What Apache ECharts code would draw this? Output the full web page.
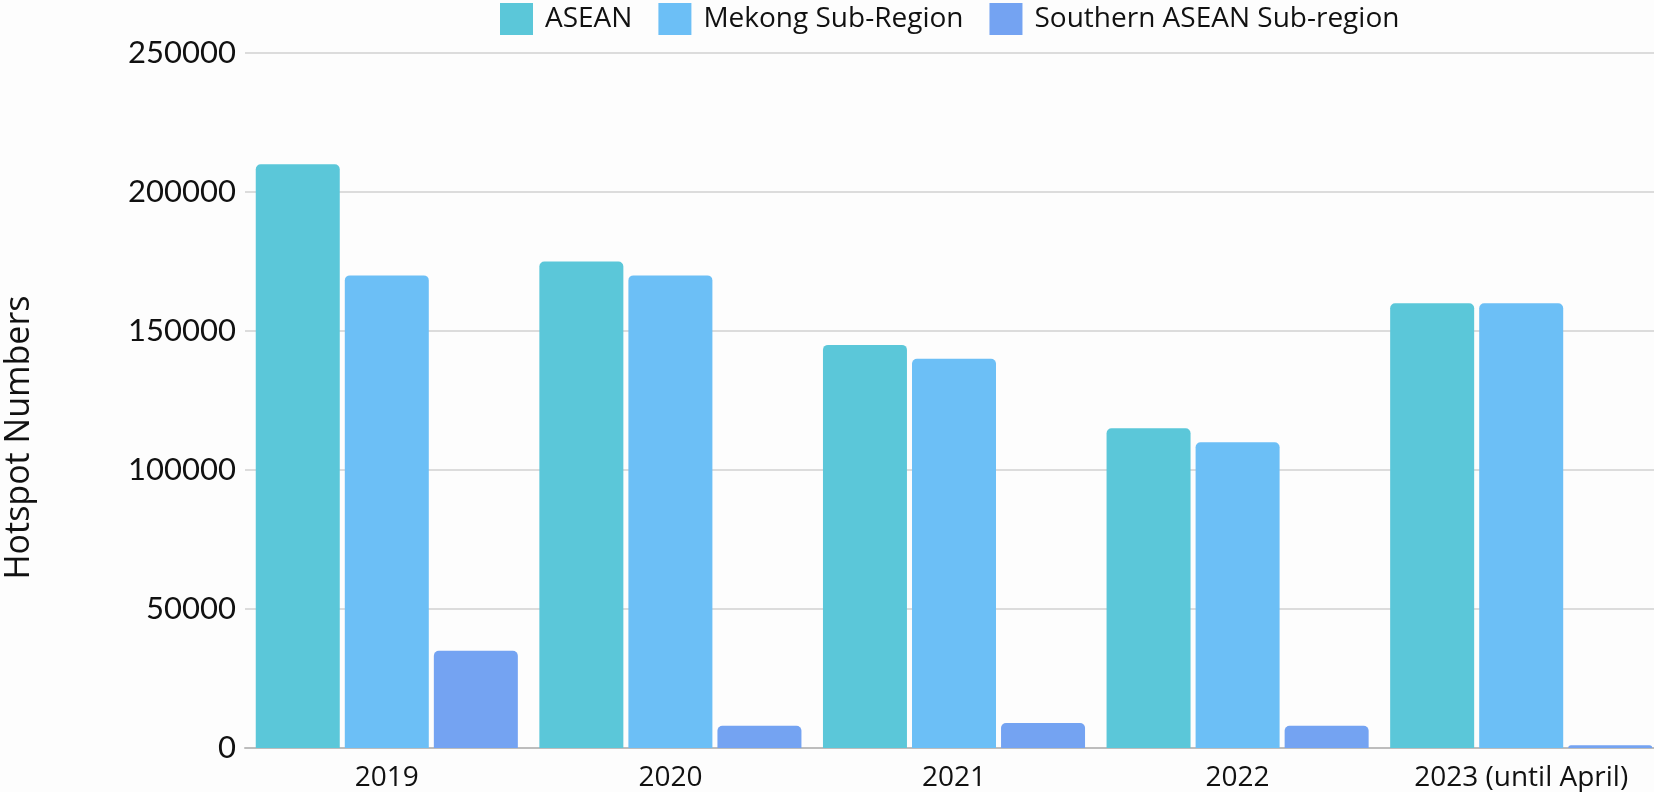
<!DOCTYPE html>
<html>
<head>
<meta charset="utf-8">
<script src="https://cdn.jsdelivr.net/npm/echarts@6/dist/echarts.min.js"></script>
<style>
  html, body { margin: 0; padding: 0; background: #fdfdfd; }
  #chart { width: 1654px; height: 792px; }
</style>
</head>
<body>
<div id="chart"></div>
<script>
    // hotspot counts per year
    var years = ['2019', '2020', '2021', '2022', '2023 (until April)'];
    var seriesNames = ['ASEAN', 'Mekong Sub-Region', 'Southern ASEAN Sub-region'];
    var aseanValues = [210000, 175000, 145000, 115000, 160000];
    var mekongValues = [170000, 170000, 140000, 110000, 160000];
    var southernValues = [35000, 8000, 9000, 8000, 1000];
    var yTicks = [0, 50000, 100000, 150000, 200000, 250000];

    var colors = ['#5bc7d9', '#6cbff6', '#74a3f2'];
    var textColor = '#111';

    var chart = echarts.init(document.getElementById('chart'));

    var makeBar = function (name, values, i) {
        return {
            name: name,
            type: 'bar',
            barWidth: 84,
            barGap: '6%',
            itemStyle: {
                color: colors[i],
                borderRadius: [5, 5, 0, 0]
            },
            emphasis: { disabled: true },
            data: values
        };
    };

    var option = {
        backgroundColor: '#fdfdfd',
        animation: false,
        legend: {
            left: 500,
            top: 3,
            padding: 0,
            itemWidth: 33,
            itemHeight: 32,
            itemGap: 26,
            icon: 'rect',
            data: seriesNames,
            textStyle: {
                fontFamily: 'Open Sans',
                fontSize: 28,
                color: textColor,
                padding: [0, 0, 0, 7]
            }
        },
        grid: {
            left: 245,
            right: -9,
            top: 53,
            bottom: 44,
            outerBoundsMode: 'none'
        },
        xAxis: {
            type: 'category',
            data: years,
            axisTick: { show: false },
            axisLine: { lineStyle: { color: '#bdbdbd', width: 2 } },
            axisLabel: {
                fontFamily: 'Open Sans',
                fontSize: 28,
                color: textColor,
                margin: 16
            }
        },
        yAxis: {
            type: 'value',
            min: yTicks[0],
            max: yTicks[yTicks.length - 1],
            interval: yTicks[1] - yTicks[0],
            name: 'Hotspot Numbers',
            nameLocation: 'middle',
            nameGap: 209,
            nameTextStyle: {
                fontFamily: 'Open Sans',
                fontSize: 34,
                color: textColor,
                padding: [0, 74, 0, 0]
            },
            axisLine: { show: false },
            axisTick: { show: false },
            splitLine: { lineStyle: { color: '#dcdcdc', width: 2 } },
            axisLabel: {
                fontFamily: 'Lato',
                fontSize: 31,
                color: textColor,
                margin: 9,
                formatter: function (v) { return String(v); }
            }
        },
        series: [
            makeBar(seriesNames[0], aseanValues, 0),
            makeBar(seriesNames[1], mekongValues, 1),
            makeBar(seriesNames[2], southernValues, 2)
        ]
    };

    chart.setOption(option);
</script>
</body>
</html>
